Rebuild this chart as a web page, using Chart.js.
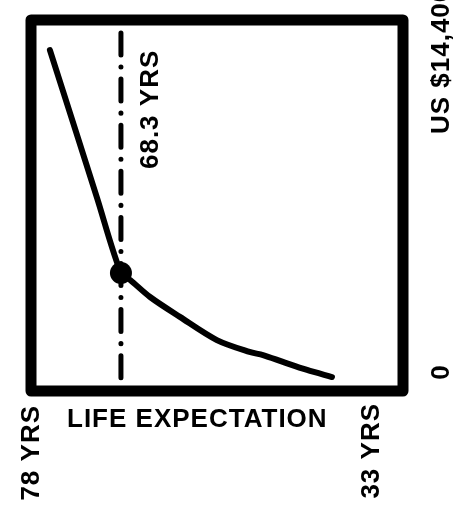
<!DOCTYPE html>
<html>
<head>
<meta charset="utf-8">
<script src="https://cdn.jsdelivr.net/npm/chart.js@4/dist/chart.umd.min.js"></script>
<style>
  html, body { margin: 0; padding: 0; background: #fff; }
  #wrap { width: 462px; height: 507px; }
</style>
</head>
<body>
<div id="wrap"><canvas id="chart-life" width="462" height="507"></canvas></div>
<script>
// life expectancy (years) vs income per head (US $)
const lifeYears = [78.3, 74.7, 71.7, 68.3, 67.0, 64.2, 60.0, 54.8, 50.2, 48.3, 45.5, 42.1, 38.6];
const incomePerHead = [14400, 11020, 8190, 4980, 4690, 3970, 3130, 2150, 1650, 1520, 1230, 890, 590];

// the dash-dot marker
const markerYears = 68.3;
const markerIncome = [15120, 0];
const markerLabel = '68.3 YRS';

// axis texts
const xEndLabels = ['78 YRS', '33 YRS'];
const xEndYears = [78, 33];
const yEndLabels = ['0', 'US $14,400'];
const yEndValues = [0, 14400];
const xTitle = 'LIFE EXPECTATION';

const FONT = 'bold 26px "Liberation Sans", Arial, sans-serif';

const curve = lifeYears.map((x, i) => ({ x: x, y: incomePerHead[i] }));
const marker = markerIncome.map(y => ({ x: markerYears, y: y }));

// thick frame round the plot
const framePlugin = {
  id: 'frame',
  afterDatasetsDraw(chart) {
    const a = chart.chartArea, ctx = chart.ctx;
    ctx.save();
    ctx.lineWidth = 11;
    ctx.lineJoin = 'round';
    ctx.strokeStyle = '#000';
    ctx.strokeRect(a.left, a.top, a.right - a.left, a.bottom - a.top);
    ctx.restore();
  }
};

// rotated end labels, title and marker text
const labelPlugin = {
  id: 'labels',
  afterDraw(chart) {
    const ctx = chart.ctx, a = chart.chartArea;
    const xs = chart.scales.x, ys = chart.scales.y;

    function upText(txt, x, y, align) {
      ctx.save();
      ctx.translate(x, y);
      ctx.rotate(-Math.PI / 2);
      ctx.textAlign = align;
      ctx.textBaseline = 'middle';
      ctx.fillText(txt, 0, 0);
      ctx.restore();
    }

    ctx.save();
    ctx.font = FONT;
    ctx.letterSpacing = '1px';
    ctx.fillStyle = '#000';

    // x ends: 78 sits on the left edge of the frame
    upText(xEndLabels[0], a.left + 1, a.bottom + 14, 'right');
    upText(xEndLabels[1], xs.getPixelForValue(xEndYears[1]), a.bottom + 12, 'right');

    ctx.textAlign = 'left';
    ctx.textBaseline = 'middle';
    ctx.fillText(xTitle, a.left + 36, a.bottom + 29);

    // y ends on the right
    upText(yEndLabels[0], a.right + 39, ys.getPixelForValue(yEndValues[0]) - 19, 'center');
    upText(yEndLabels[1], a.right + 39, ys.getPixelForValue(yEndValues[1]) + 84, 'left');

    // marker text
    upText(markerLabel, xs.getPixelForValue(markerYears) + 30, ys.getPixelForValue(markerIncome[0]) + 136, 'left');
    ctx.restore();
  }
};

new Chart('chart-life', {
  type: 'line',
  data: {
    datasets: [
      {
        data: curve,
        borderColor: '#000',
        backgroundColor: '#000',
        borderWidth: 6,
        borderCapStyle: 'round',
        borderJoinStyle: 'round',
        tension: 0.3,
        pointRadius: ctx => (ctx.raw && ctx.raw.x === markerYears ? 11 : 0),
        pointBorderWidth: 0,
        fill: false
      },
      {
        data: marker,
        borderColor: '#000',
        borderWidth: 5,
        borderCapStyle: 'round',
        borderDash: [22, 12, 0.1, 12],
        pointRadius: 0,
        fill: false
      }
    ]
  },
  options: {
    responsive: false,
    animation: false,
    layout: { padding: { left: 31, right: 59, top: 20, bottom: 116 } },
    scales: {
      x: { type: 'linear', reverse: true, min: 28.6, max: 80.96, display: false },
      y: { type: 'linear', min: 0, max: 15670, display: false }
    },
    plugins: {
      legend: { display: false },
      tooltip: { enabled: false }
    }
  },
  plugins: [framePlugin, labelPlugin]
});
</script>
</body>
</html>
